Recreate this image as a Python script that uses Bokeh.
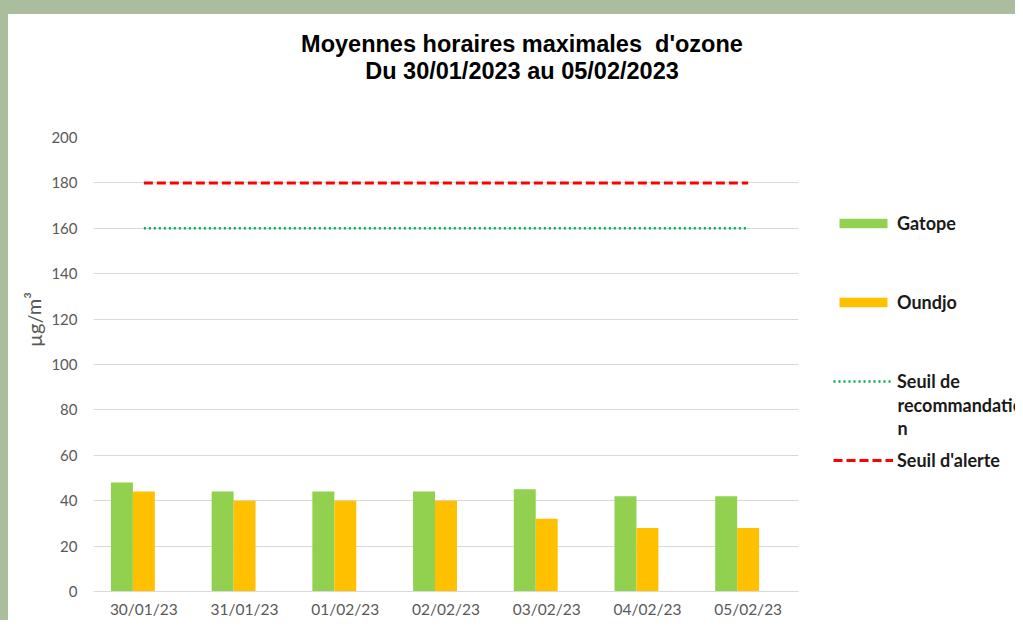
from bokeh.plotting import figure
from bokeh.models import (ColumnDataSource, FactorRange, Legend, LegendItem, Label,
                          Range1d, FixedTicker, Spacer, Div)
from bokeh.layouts import column, row
from bokeh.transform import dodge
from bokeh.embed import file_html
from bokeh.resources import INLINE

# ---- data ----
dates = ["30/01/23", "31/01/23", "01/02/23", "02/02/23", "03/02/23", "04/02/23", "05/02/23"]
gatope = [48, 44, 44, 44, 45, 42, 42]
oundjo = [44, 40, 40, 40, 32, 28, 28]
seuil_recommandation = [160, 160, 160, 160, 160, 160, 160]
seuil_alerte = [180, 180, 180, 180, 180, 180, 180]
y_ticks = [0, 20, 40, 60, 80, 100, 120, 140, 160, 180, 200]
title_line1 = "Moyennes horaires maximales  d'ozone"
title_line2 = "Du 30/01/2023 au 05/02/2023"
y_label = "µg/m³"
legend_labels = ["Gatope", "Oundjo", "Seuil de", "Seuil d'alerte"]
legend_wrap = ["recommandatio", "n"]

GREEN_BG = "#aabd9c"
C_GATOPE = "#92d050"
C_OUNDJO = "#ffc000"
C_RECO = "#00b050"
C_ALERTE = "#ff0000"
TICK_C = "#595959"
DASH_RECO = "2 3"
DASH_ALERTE = "9 4"

src = ColumnDataSource(dict(dates=dates, gatope=gatope, oundjo=oundjo,
                            reco=seuil_recommandation, alerte=seuil_alerte))

PH = 526  # height of chart row

# ---------------- main chart ----------------
p = figure(x_range=FactorRange(*dates), y_range=Range1d(0, 200),
           width=760, height=PH, output_backend="svg", toolbar_location=None,
           min_border_left=45, min_border_right=10, min_border_top=43,
           min_border_bottom=28)
p.outline_line_color = None
p.border_fill_color = "white"
p.xgrid.grid_line_color = None
p.ygrid.grid_line_color = "#d9d9d9"
p.ygrid.grid_line_width = 1

p.yaxis.ticker = FixedTicker(ticks=y_ticks)
p.yaxis.axis_line_color = None
p.yaxis.major_tick_line_color = None
p.yaxis.minor_tick_line_color = None
p.yaxis.major_tick_out = 0
p.yaxis.major_label_standoff = 16
p.yaxis.major_label_text_font = "Lato"
p.yaxis.major_label_text_font_size = "15px"
p.yaxis.major_label_text_color = TICK_C

p.xaxis.axis_line_color = "#d9d9d9"
p.xaxis.major_tick_line_color = None
p.xaxis.minor_tick_line_color = None
p.xaxis.major_tick_out = 0
p.xaxis.major_label_standoff = 8
p.xaxis.major_label_text_font = "Lato"
p.xaxis.major_label_text_font_size = "15.5px"
p.xaxis.major_label_text_color = TICK_C

bw = 0.218
p.vbar(x=dodge("dates", -bw, range=p.x_range), top="gatope", width=bw,
       source=src, fill_color=C_GATOPE, line_color=None)
p.vbar(x=dodge("dates", 0.0, range=p.x_range), top="oundjo", width=bw,
       source=src, fill_color=C_OUNDJO, line_color=None)
p.line(x="dates", y="reco", source=src, line_color=C_RECO,
       line_width=2.5, line_dash=DASH_RECO)
p.line(x="dates", y="alerte", source=src, line_color=C_ALERTE,
       line_width=3, line_dash=DASH_ALERTE)

# ---------------- y-axis title panel (frame aligned with main chart) ----------------
yl = figure(width=40, height=PH, output_backend="svg", toolbar_location=None,
            x_axis_type=None, y_axis_type=None, min_border=0,
            x_range=Range1d(0, 1), y_range=Range1d(0, 1))
yl.outline_line_color = None
yl.grid.visible = False
yl.add_layout(Label(x=25, y=272, x_units="screen", y_units="screen", text=y_label,
                    angle=1.5708, text_align="center", text_baseline="middle",
                    text_font="Lato", text_font_size="20px", text_color=TICK_C))

# ---------------- legend panel (frame aligned with main chart) ----------------
lg = figure(width=207, height=PH, output_backend="svg", toolbar_location=None,
            x_axis_type=None, y_axis_type=None, min_border=0,
            x_range=Range1d(0, 1), y_range=Range1d(0, 1))
lg.outline_line_color = None
lg.grid.visible = False
# legend-sample renderers: their single point lies outside the visible range
k_g = lg.vbar(x=[-9], top=[-9], bottom=[-10], width=0.1,
              fill_color=C_GATOPE, line_color=None)
k_o = lg.vbar(x=[-9], top=[-9], bottom=[-10], width=0.1,
              fill_color=C_OUNDJO, line_color=None)
k_r = lg.line(x=[-9, -8], y=[-9, -9], line_color=C_RECO, line_width=2.5,
              line_dash=DASH_RECO)
k_a = lg.line(x=[-9, -8], y=[-9, -9], line_color=C_ALERTE, line_width=3,
              line_dash=DASH_ALERTE)

legend = Legend(items=[LegendItem(label=t, renderers=[r]) for t, r in
                       zip(legend_labels, [k_g, k_o, k_r, k_a])],
                location=(25, 120.5))
legend.glyph_width = 60
legend.glyph_height = 12
legend.label_height = 22
legend.label_standoff = 4
legend.spacing = 57
legend.padding = 0
legend.margin = 0
legend.border_line_color = None
legend.background_fill_alpha = 0
legend.label_text_font = "Lato"
legend.label_text_font_style = "bold"
legend.label_text_font_size = "18px"
legend.label_text_color = "#1a1a1a"
lg.add_layout(legend)

for txt, yy in zip(legend_wrap, [187, 164]):
    lg.add_layout(Label(x=89, y=yy, x_units="screen", y_units="screen", text=txt,
                        text_align="left", text_baseline="middle",
                        text_font="Lato", text_font_style="bold",
                        text_font_size="18px", text_color="#1a1a1a"))

# ---------------- title ----------------
title_div = Div(
    text=('<div style="box-sizing:border-box;width:1007px;padding:17px 0 0 21px;'
          'text-align:center;font-family:\'Liberation Sans\';font-weight:bold;'
          'font-size:23.5px;line-height:27px;color:#000;white-space:pre;margin:0">'
          f'{title_line1}<br>{title_line2}</div>'),
    width=1007, height=80, styles={"background-color": "white", "margin": "0"})

top_band = Spacer(width=1015, height=14, styles={"background-color": GREEN_BG})
left_band = Spacer(width=8, height=606, styles={"background-color": GREEN_BG})

layout = column(top_band,
                row(left_band,
                    column(title_div, row(yl, p, lg, spacing=0), spacing=0),
                    spacing=0),
                spacing=0)

html = file_html(layout, INLINE, title="Moyennes horaires maximales d'ozone")
open("out.html", "w").write(html)
